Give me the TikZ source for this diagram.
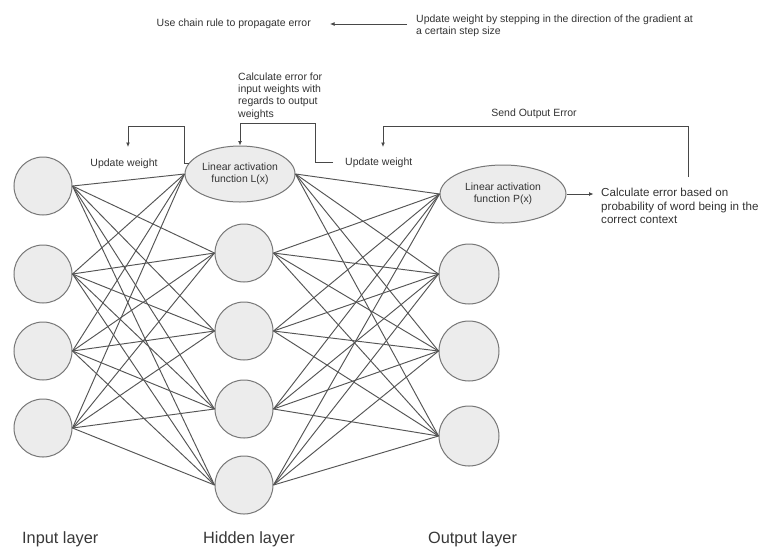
\documentclass[tikz,border=0pt]{standalone}
\usepackage{fontspec}
\setmainfont{Liberation Sans}
\usetikzlibrary{shapes.geometric,arrows.meta}
\definecolor{edge}{HTML}{555555}
\definecolor{nodefill}{HTML}{ECECEC}
\definecolor{nodeline}{HTML}{777777}
\definecolor{txt}{HTML}{333333}
\begin{document}
\begin{tikzpicture}[x=1pt,y=-1pt,
  neuron/.style={circle,draw=nodeline,fill=nodefill,line width=1pt,minimum size=58pt,inner sep=0},
  act/.style={ellipse,draw=nodeline,fill=nodefill,line width=1pt,inner sep=0,align=center,font=\fontsize{10.4}{11.5}\selectfont,text=txt},
  lbl/.style={font=\fontsize{10.5}{12.4}\selectfont,text=txt,inner sep=0,align=left},
  biglbl/.style={font=\fontsize{11.6}{13.6}\selectfont,text=txt,inner sep=0,align=left},
  layer/.style={font=\fontsize{16.3}{18}\selectfont,text=black!78,inner sep=0},
  wire/.style={draw=edge,line width=0.95pt},
  arr/.style={draw=edge!85!black,line width=0.9pt,-{Latex[length=4.5pt,width=4pt]}}
]
\useasboundingbox[fill=white] (0,0) rectangle (759,547);

% input layer
\node[neuron] (i1) at (43,186) {};
\node[neuron] (i2) at (43,274) {};
\node[neuron] (i3) at (43,351) {};
\node[neuron] (i4) at (43,428) {};

% hidden layer
\node[act,minimum width=110pt,minimum height=56pt] (h0) at (240,174) {Linear activation\\function L(x)};
\node[neuron] (h1) at (244,253) {};
\node[neuron] (h2) at (244,331) {};
\node[neuron] (h3) at (244,409) {};
\node[neuron] (h4) at (244,485) {};

% output layer
\node[act,minimum width=126pt,minimum height=58pt] (o0) at (503,194) {Linear activation\\function P(x)};
\node[neuron,minimum size=60pt] (o1) at (469,274) {};
\node[neuron,minimum size=60pt] (o2) at (469,351) {};
\node[neuron,minimum size=60pt] (o3) at (469,436) {};

% connections
\foreach \i in {1,...,4}
  \foreach \h in {0,...,4}
    \draw[wire] (i\i.east) -- (h\h.west);
\foreach \h in {0,...,4}
  \foreach \o in {0,...,3}
    \draw[wire] (h\h.east) -- (o\o.west);

% texts
\node[lbl,anchor=east] (chain) at (311,24) {Use chain rule to propagate error};
\node[lbl,anchor=west] (upd) at (416,26) {Update weight by stepping in the direction of the gradient at\\a certain step size};
\node[lbl,anchor=west] (calcin) at (238,96) {Calculate error for\\input weights with\\regards to output\\weights};
\node[lbl] (uw1) at (124,164) {Update weight};
\node[lbl,anchor=west] (uw2) at (345,163) {Update weight};
\node[lbl] (send) at (534,114) {Send Output Error};
\node[biglbl,anchor=west] (calc) at (601,206) {Calculate error based on\\probability of word being in the\\correct context};

\node[layer,anchor=base west] (lin) at (22,543) {Input layer};
\node[layer,anchor=base west] (lhid) at (203,543) {Hidden layer};
\node[layer,anchor=base west] (lout) at (428,543) {Output layer};

% arrows
\coordinate (a1s) at (407,24);
\draw[arr] (a1s) -- ([xshift=19pt]chain.east);

\coordinate (k1) at (128,126);
\coordinate (e1) at (128,147);
\draw[arr] (h0.168) -- ++(-4,0) |- (k1) -- (e1);

\coordinate (s2) at (333,162);
\coordinate (k2) at (315,123);
\draw[arr] (s2) -| (k2) -| (h0.north);

\coordinate (s3) at (688,177);
\coordinate (k3) at (383,126);
\coordinate (e3) at (383,147);
\draw[arr] (s3) |- (k3) -- (e3);

\draw[arr] (o0.east) -- ++(27,0);
\end{tikzpicture}
\end{document}
